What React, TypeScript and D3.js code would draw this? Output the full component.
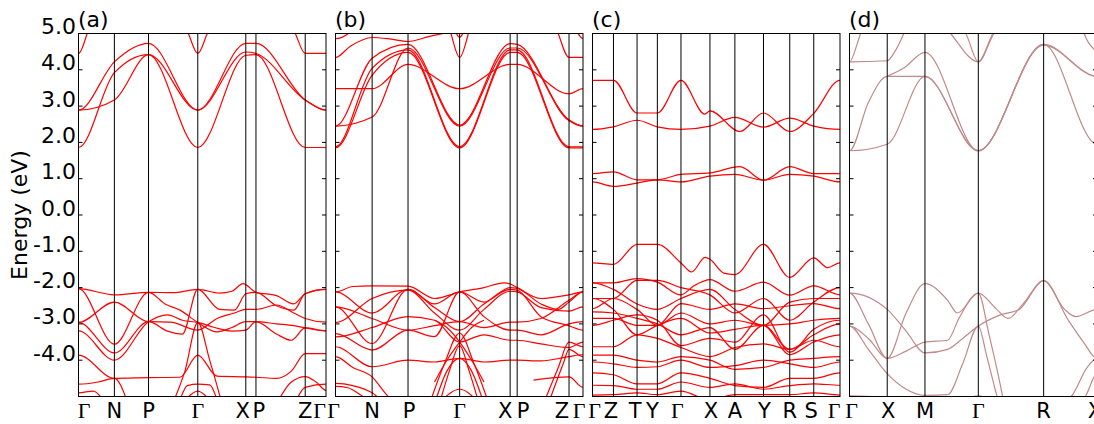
import React from "react";
import * as d3 from "d3";

type Pt = [number, number]; // [k along path, energy eV]

const yTicks = [5, 4, 3, 2, 1, 0, -1, -2, -3, -4];
const eRange: [number, number] = [-5, 5];

// ---- panel (a)
const kTicksA = [0, 0.145, 0.283, 0.482, 0.676, 0.717, 0.916, 1];
const kNamesA = ["Γ", "N", "P", "Γ", "X", "P", "Z", "Γ"];
const condA: Pt[][] = [
  [[0, 1.86], [0.145, 3.92], [0.283, 4.42], [0.482, 1.86], [0.676, 4.4], [0.717, 4.42], [0.916, 1.86], [1, 1.86]],
  [[0, 2.89], [0.145, 4.22], [0.283, 4.73], [0.482, 2.89], [0.676, 4.73], [0.717, 4.73], [0.916, 3.17], [1, 2.89]],
  [[0, 2.89], [0.145, 3.17], [0.283, 4.42], [0.482, 2.89], [0.676, 4.49], [0.717, 4.45], [0.916, 3.17], [1, 2.89]],
  [[0, 4.45], [0.035, 5.0], [0.06, 5.6]],
  [[0.42, 5.4], [0.444, 5.0], [0.482, 4.45], [0.52, 5.0], [0.544, 5.4]],
  [[0.85, 5.4], [0.876, 5.0], [0.916, 4.45], [1, 4.45]],
];
const valA: Pt[][] = [
  [[0, -2.03], [0.145, -2.2], [0.283, -2.13], [0.38, -2.14], [0.482, -2.05], [0.57, -2.15], [0.62, -2.1], [0.665, -1.89], [0.717, -2.13], [0.8, -2.22], [0.87, -2.45], [0.916, -2.17], [1, -2.05]],
  [[0, -2.03], [0.145, -3.56], [0.283, -2.13], [0.35, -2.45], [0.41, -2.62], [0.482, -2.96], [0.56, -3.22], [0.62, -3.1], [0.676, -2.94], [0.717, -2.94], [0.8, -3.28], [0.86, -3.45], [0.916, -3.11], [1, -3.19]],
  [[0, -2.96], [0.145, -2.4], [0.283, -2.94], [0.37, -2.95], [0.482, -3.17], [0.56, -2.85], [0.63, -2.7], [0.676, -2.6], [0.717, -2.6], [0.8, -2.48], [0.87, -2.7], [0.916, -2.85], [1, -2.95]],
  [[0, -2.96], [0.145, -3.8], [0.283, -2.94], [0.36, -3.2], [0.42, -3.28], [0.482, -2.05], [0.57, -2.6], [0.63, -2.62], [0.676, -2.17], [0.717, -2.13], [0.8, -2.5], [0.87, -2.62], [0.916, -2.17], [1, -2.05]],
  [[0, -3.19], [0.145, -4.0], [0.283, -2.94], [0.36, -2.75], [0.42, -2.9], [0.482, -2.96], [0.55, -3.1], [0.62, -3.2], [0.676, -3.17], [0.717, -2.94], [0.8, -3.0], [0.87, -3.05], [0.916, -3.11], [1, -3.19]],
  [[0, -3.86], [0.145, -4.5], [0.283, -4.48], [0.41, -4.47], [0.482, -3.86], [0.56, -4.44], [0.676, -4.46], [0.717, -4.47], [0.8, -4.5], [0.86, -4.3], [0.916, -3.82], [1, -3.82]],
  [[0, -4.66], [0.08, -4.6], [0.145, -4.5], [0.2, -5.2]],
  [[0, -4.9], [0.06, -4.85], [0.1, -5.1]],
  [[0.38, -5.2], [0.43, -4.3], [0.482, -2.96], [0.53, -4.0], [0.58, -5.2]],
  [[0.8, -5.2], [0.86, -4.6], [0.916, -4.45], [0.96, -4.6], [1, -4.83]],
  [[0.41, -5.1], [0.44, -4.7], [0.482, -4.66], [0.53, -4.68], [0.56, -5.1]],
  [[0.43, -5.1], [0.482, -4.85], [0.53, -5.1]],
  [[0.88, -5.1], [0.916, -4.75], [1, -4.66]],
];

// ---- panel (b)
const kTicksB = [0, 0.148, 0.293, 0.5016, 0.7056, 0.734, 0.9435, 1];
const kNamesB = ["Γ", "N", "P", "Γ", "X", "P", "Z", "Γ"];
const condB: Pt[][] = [
  [[0, 1.85], [0.148, 3.85], [0.293, 4.48], [0.5016, 1.85], [0.7056, 4.48], [0.734, 4.48], [0.9435, 1.85], [1, 1.85]],
  [[0, 1.88], [0.148, 4.04], [0.293, 4.55], [0.5016, 1.88], [0.7056, 4.55], [0.734, 4.55], [0.9435, 1.88], [1, 1.88]],
  [[0, 2.45], [0.148, 2.7], [0.293, 4.6], [0.5016, 2.45], [0.7056, 4.6], [0.734, 4.6], [0.9435, 2.6], [1, 2.45]],
  [[0, 2.45], [0.148, 4.32], [0.293, 4.7], [0.5016, 2.48], [0.7056, 4.72], [0.734, 4.7], [0.9435, 2.62], [1, 2.45]],
  [[0, 3.48], [0.148, 3.48], [0.293, 4.15], [0.5016, 3.48], [0.7056, 4.15], [0.734, 4.15], [0.9435, 3.34], [1, 3.48]],
  [[0, 4.34], [0.06, 4.65], [0.148, 4.89], [0.22, 4.85], [0.293, 4.78], [0.38, 4.92], [0.4665, 5.05]],
  [[0.45, 5.4], [0.4665, 5.0], [0.5016, 4.34], [0.537, 5.0], [0.553, 5.4]],
  [[0.48, 5.2], [0.489, 5.0], [0.5016, 4.9], [0.514, 5.0], [0.522, 5.2]],
  [[0.88, 5.4], [0.9, 5.0], [0.9435, 4.34], [1, 4.34]],
  [[0.96, 5.2], [0.98, 5.0], [1, 4.86]],
  [[0, 4.86], [0.052, 5.0], [0.07, 5.2]],
];
const valB: Pt[][] = [
  [[0, -2.12], [0.07, -1.97], [0.148, -1.95], [0.293, -1.96], [0.4, -2.3], [0.5016, -2.12], [0.6, -2.0], [0.68, -1.87], [0.7056, -1.9], [0.734, -2.0], [0.83, -2.3], [0.9435, -2.2], [1, -2.12]],
  [[0, -2.12], [0.148, -2.7], [0.293, -2.05], [0.4, -2.45], [0.5016, -2.12], [0.6, -2.4], [0.7056, -2.0], [0.734, -2.02], [0.83, -2.45], [0.9, -2.6], [0.9435, -2.4], [1, -2.12]],
  [[0, -2.53], [0.148, -3.54], [0.293, -2.05], [0.4, -2.55], [0.5016, -2.94], [0.6, -2.45], [0.7056, -2.05], [0.734, -2.07], [0.83, -2.8], [0.9435, -3.05], [1, -3.17]],
  [[0, -2.96], [0.148, -2.3], [0.293, -2.07], [0.4, -2.7], [0.5016, -3.17], [0.6, -2.6], [0.7056, -2.1], [0.734, -2.12], [0.83, -2.55], [0.9435, -2.65], [1, -2.53]],
  [[0, -2.53], [0.148, -2.85], [0.293, -3.17], [0.4, -3.05], [0.5016, -2.94], [0.6, -3.1], [0.7056, -2.95], [0.734, -2.95], [0.83, -2.85], [0.9435, -2.35], [1, -2.12]],
  [[0, -3.27], [0.148, -3.72], [0.293, -3.17], [0.4, -3.35], [0.5016, -2.12], [0.6, -2.8], [0.7056, -3.17], [0.734, -3.17], [0.83, -3.3], [0.9435, -3.0], [1, -2.94]],
  [[0, -3.36], [0.148, -3.1], [0.293, -2.8], [0.4, -2.9], [0.5016, -3.5], [0.6, -3.3], [0.7056, -3.45], [0.734, -3.45], [0.83, -3.55], [0.9435, -3.65], [1, -3.5]],
  [[0, -3.63], [0.148, -4.18], [0.293, -4.0], [0.4, -4.05], [0.5016, -3.95], [0.6, -4.05], [0.7056, -4.0], [0.734, -4.0], [0.83, -4.02], [0.9435, -3.9], [1, -3.85]],
  [[0.42, -5.2], [0.46, -4.3], [0.5016, -3.6], [0.54, -4.3], [0.58, -5.2]],
  [[0.4, -5.2], [0.45, -4.3], [0.5016, -3.95], [0.55, -4.3], [0.6, -5.2]],
  [[0.38, -5.2], [0.44, -4.1], [0.5016, -3.25], [0.56, -4.1], [0.62, -5.2]],
  [[0.4, -2.9], [0.45, -3.1], [0.5016, -3.5], [0.55, -4.0], [0.6, -4.6]],
  [[0.4, -4.6], [0.45, -4.0], [0.5016, -3.5], [0.55, -3.1], [0.6, -2.9]],
  [[0, -3.9], [0.07, -4.2], [0.148, -4.46], [0.2, -4.9], [0.24, -5.2]],
  [[0, -4.64], [0.07, -4.7], [0.148, -4.9], [0.2, -5.2]],
  [[0, -4.72], [0.05, -4.76], [0.1, -4.95], [0.15, -5.2]],
  [[0.84, -5.2], [0.9, -4.2], [0.9435, -3.5], [1, -3.63]],
  [[0.86, -5.2], [0.92, -4.1], [0.9435, -3.7], [1, -3.9]],
  [[0.43, -5.1], [0.5016, -4.8], [0.57, -5.1]],
  [[0.8, -4.55], [0.9435, -4.46], [1, -4.75]],
];

// ---- panel (c)
const kTicksC = [0, 0.0847, 0.18, 0.262, 0.3575, 0.4745, 0.5753, 0.6909, 0.797, 0.894, 1];
const kNamesC = ["Γ", "Z", "T", "Y", "Γ", "X", "A", "Y", "R", "S", "Γ"];
const condC: Pt[][] = [
  [[0, 3.71], [0.0847, 3.71], [0.18, 2.81], [0.262, 2.81], [0.3575, 3.71], [0.454, 2.78], [0.4745, 2.87], [0.5955, 2.3], [0.6909, 2.81], [0.797, 2.3], [0.894, 2.8], [1, 3.71]],
  [[0, 2.36], [0.0847, 2.43], [0.18, 2.61], [0.262, 2.43], [0.3575, 2.36], [0.4745, 2.45], [0.5753, 2.69], [0.6909, 2.42], [0.797, 2.67], [0.894, 2.45], [1, 2.36]],
  [[0, 1.14], [0.0847, 1.19], [0.18, 0.97], [0.262, 0.97], [0.3575, 1.12], [0.4745, 1.16], [0.5955, 1.33], [0.6909, 0.96], [0.797, 1.33], [0.894, 1.14], [1, 1.14]],
  [[0, 0.91], [0.0847, 0.79], [0.18, 0.88], [0.262, 0.97], [0.3575, 0.91], [0.4745, 1.07], [0.5753, 1.12], [0.6909, 0.96], [0.797, 1.12], [0.894, 1.07], [1, 0.91]],
];
const valC: Pt[][] = [
  [[0, -1.32], [0.0847, -1.36], [0.18, -0.81], [0.262, -0.81], [0.3575, -1.32], [0.4, -1.57], [0.455, -1.17], [0.4745, -1.22], [0.53, -1.6], [0.5753, -1.64], [0.6909, -0.81], [0.797, -1.72], [0.894, -1.18], [0.95, -1.45], [1, -1.32]],
  [[0, -1.87], [0.0847, -1.87], [0.18, -1.75], [0.262, -1.85], [0.3575, -2.2], [0.41, -1.95], [0.4745, -1.78], [0.5753, -2.1], [0.6909, -1.85], [0.797, -2.21], [0.894, -1.95], [1, -2.2]],
  [[0, -2.3], [0.0847, -2.3], [0.18, -1.8], [0.262, -1.8], [0.3575, -2.0], [0.4745, -2.2], [0.5753, -2.7], [0.6909, -2.3], [0.797, -2.9], [0.894, -2.4], [1, -2.0]],
  [[0, -2.58], [0.0847, -2.3], [0.18, -2.6], [0.262, -3.04], [0.3575, -2.44], [0.4745, -2.6], [0.5753, -2.45], [0.6909, -2.58], [0.797, -2.5], [0.894, -2.44], [1, -2.58]],
  [[0, -2.85], [0.0847, -2.85], [0.18, -3.04], [0.262, -3.04], [0.3575, -2.7], [0.4745, -3.0], [0.5753, -2.9], [0.6909, -3.04], [0.797, -3.0], [0.894, -2.9], [1, -2.85]],
  [[0, -2.3], [0.0847, -2.6], [0.18, -3.3], [0.262, -3.04], [0.3575, -2.85], [0.4745, -3.25], [0.5753, -3.15], [0.6909, -3.04], [0.797, -3.7], [0.894, -3.3], [1, -3.0]],
  [[0, -3.04], [0.0847, -2.9], [0.18, -2.75], [0.262, -2.9], [0.3575, -3.6], [0.4745, -3.4], [0.5753, -3.5], [0.6909, -2.75], [0.797, -3.78], [0.894, -3.15], [1, -2.9]],
  [[0, -2.67], [0.0847, -2.7], [0.18, -2.85], [0.262, -3.0], [0.3575, -3.3], [0.4745, -3.1], [0.5753, -3.7], [0.6909, -3.04], [0.797, -3.85], [0.894, -3.5], [1, -3.3]],
  [[0, -3.63], [0.0847, -3.63], [0.18, -3.3], [0.262, -3.4], [0.3575, -3.65], [0.4745, -3.9], [0.5753, -3.65], [0.6909, -3.55], [0.797, -3.7], [0.894, -3.45], [1, -3.63]],
  [[0, -3.86], [0.0847, -3.86], [0.18, -4.0], [0.262, -4.05], [0.3575, -3.9], [0.4745, -4.0], [0.5753, -4.25], [0.6909, -4.2], [0.797, -4.0], [0.894, -3.95], [1, -3.9]],
  [[0, -4.05], [0.0847, -4.1], [0.18, -4.2], [0.262, -4.18], [0.3575, -4.0], [0.4745, -4.2], [0.5753, -4.15], [0.6909, -4.0], [0.797, -4.1], [0.894, -4.2], [1, -4.05]],
  [[0, -4.35], [0.0847, -4.4], [0.18, -4.65], [0.262, -4.65], [0.3575, -4.35], [0.4745, -4.5], [0.5753, -4.7], [0.6909, -4.75], [0.797, -4.5], [0.894, -4.5], [1, -4.35]],
  [[0, -4.69], [0.0847, -4.7], [0.18, -4.8], [0.262, -4.8], [0.3575, -4.6], [0.4745, -4.75], [0.5753, -4.65], [0.6909, -4.8], [0.797, -4.7], [0.894, -4.65], [1, -4.69]],
  [[0, -4.96], [0.0847, -4.95], [0.18, -4.9], [0.262, -4.95], [0.3575, -4.85], [0.4745, -5.1], [0.5753, -4.95], [0.6909, -4.95], [0.797, -4.95], [0.894, -4.9], [1, -4.96]],
  [[0, -1.87], [0.0847, -2.05], [0.18, -2.45], [0.262, -2.6], [0.3575, -2.3], [0.4745, -2.05], [0.5753, -2.6], [0.6909, -3.04], [0.797, -2.4], [0.894, -2.3], [1, -2.3]],
];

// ---- panel (d)
const kTicksD = [0, 0.5, 1.0, 1.707, 2.573, 3.28];
const kNamesD = ["Γ", "X", "M", "Γ", "R", "X"];
const condD: Pt[][] = [
  [[0, 1.77], [0.5, 1.95], [1.0, 3.82], [1.707, 1.77], [2.573, 4.7], [3.28, 1.95]],
  [[0, 1.77], [0.25, 3.1], [0.5, 3.82], [1.0, 3.82], [1.707, 1.77], [2.573, 4.7], [3.28, 3.82]],
  [[0.5, 3.82], [0.72, 4.05], [1.0, 4.48], [1.707, 1.77], [2.573, 4.68], [3.28, 3.82]],
  [[0, 4.22], [0.5, 4.25], [0.6, 4.5], [0.72, 5.0], [0.76, 5.2]],
  [[0, 4.22], [0.1, 4.7], [0.146, 5.0], [0.2, 5.3]],
  [[1.3, 5.1], [1.34, 5.0], [1.707, 4.22], [1.915, 5.0], [1.95, 5.1]],
  [[1.5, 5.1], [1.539, 5.0], [1.707, 4.22], [1.9, 5.0], [1.93, 5.1]],
  [[3.08, 5.2], [3.11, 5.0], [3.25, 4.55], [3.28, 4.5]],
];
const valD: Pt[][] = [
  [[0, -2.15], [0.5, -2.6], [0.75, -3.2], [1.0, -3.8], [1.3, -3.7], [1.5, -3.4], [1.707, -3.06], [2.0, -2.75], [2.25, -2.6], [2.573, -1.81], [2.9, -2.9], [3.1, -3.5], [3.28, -3.95]],
  [[0, -2.15], [0.25, -3.0], [0.5, -3.95], [0.75, -2.7], [1.0, -1.89], [1.3, -2.35], [1.43, -2.7], [1.707, -2.15], [1.95, -2.6], [2.1, -2.85], [2.3, -2.45], [2.573, -1.81], [2.85, -2.6], [3.0, -2.8], [3.28, -2.6]],
  [[0, -3.06], [0.25, -3.4], [0.5, -3.95], [0.75, -3.75], [1.0, -3.5], [1.3, -3.45], [1.45, -2.85], [1.707, -2.15], [1.85, -3.3], [1.97, -4.4], [2.05, -5.2]],
  [[0, -3.06], [0.25, -3.7], [0.5, -4.37], [0.75, -4.8], [1.0, -4.97], [1.3, -4.95], [1.5, -4.1], [1.707, -3.06], [1.82, -3.9], [1.93, -4.8], [1.98, -5.2]],
  [[2.85, -5.2], [2.95, -4.97], [3.15, -4.2], [3.28, -3.95]],
  [[3.08, -5.2], [3.15, -4.9], [3.28, -4.37]],
  [[0, -4.98], [0.3, -5.0], [0.4, -5.1]],
  [[1.5, -5.1], [1.707, -4.98], [1.9, -5.1]],
];

// label nudges (px) so crowded k-point names sit side by side
const nudgeA = [5.5, 0, 0, 0, -3, 3, 0, -6.5];
const nudgeB = [-2, 0, 1, 0, -5, 6, -7, -4];
const nudgeC = [2, -2.5, -2, -5, -3.5, 1, 0, 1, 0, -2.5, -6];
const nudgeD = [2, 1, 0, 0, 0, -2];

const W = 1094;
const H = 424;
const TOP = 33.5;
const BOTTOM = 396.5;
const PANEL_X = [78.5, 335.5, 592.5, 849.5];
const PANEL_W = 247.5;
const SANS = "'DejaVu Sans', sans-serif";
const SERIF = "'Liberation Serif', 'DejaVu Serif', serif";

const panels = [
  { tag: "(a)", ticks: kTicksA, names: kNamesA, nudge: nudgeA, bands: [...condA, ...valA], color: "#ff0000" },
  { tag: "(b)", ticks: kTicksB, names: kNamesB, nudge: nudgeB, bands: [...condB, ...valB], color: "#ff0000" },
  { tag: "(c)", ticks: kTicksC, names: kNamesC, nudge: nudgeC, bands: [...condC, ...valC], color: "#ff0000" },
  { tag: "(d)", ticks: kTicksD, names: kNamesD, nudge: nudgeD, bands: [...condD, ...valD], color: "#c08a8a" },
];

const yScale = d3.scaleLinear().domain(eRange).range([BOTTOM, TOP]);

// bands are symmetric about the path ends, so mirror one point past each end
function mirrorEnds(pts: Pt[], kmax: number): Pt[] {
  const out = pts.slice();
  if (pts.length > 1 && pts[0][0] <= 0) out.unshift([-pts[1][0], pts[1][1]]);
  const n = pts.length;
  if (n > 1 && pts[n - 1][0] >= kmax) out.push([2 * kmax - pts[n - 2][0], pts[n - 2][1]]);
  return out;
}

function Panel({ p, i }: { p: (typeof panels)[number]; i: number }) {
  const x0 = PANEL_X[i];
  const kmax = p.ticks[p.ticks.length - 1];
  const x = d3.scaleLinear().domain([0, kmax]).range([x0, x0 + PANEL_W]);
  const line = d3
    .line<Pt>()
    .x((d) => x(d[0]))
    .y((d) => yScale(d[1]))
    .curve(d3.curveMonotoneX);
  const clipId = `clip-${i}`;
  return (
    <g>
      <clipPath id={clipId}>
        <rect x={x0} y={TOP} width={PANEL_W} height={BOTTOM - TOP} />
      </clipPath>
      <g clipPath={`url(#${clipId})`} fill="none" stroke={p.color} strokeWidth={1.2}>
        {p.bands.map((b, j) => (
          <path key={j} d={line(mirrorEnds(b, kmax)) || ""} />
        ))}
      </g>
      {p.ticks.slice(1, -1).map((k, j) => (
        <line key={j} x1={x(k)} x2={x(k)} y1={TOP} y2={BOTTOM} stroke="#000" strokeWidth={1} />
      ))}
      {yTicks.map((t) => (
        <g key={t} stroke="#000">
          <line x1={x0} x2={x0 + 4} y1={yScale(t)} y2={yScale(t)} />
          <line x1={x0 + PANEL_W - 4} x2={x0 + PANEL_W} y1={yScale(t)} y2={yScale(t)} />
        </g>
      ))}
      <rect x={x0} y={TOP} width={PANEL_W} height={BOTTOM - TOP} fill="none" stroke="#000" strokeWidth={1} />
      <text x={x0 - 0.5} y={27} fontFamily={SANS} fontSize={22}>
        {p.tag}
      </text>
      {p.names.map((nm, j) => {
        const greek = nm === "Γ";
        return (
          <text
            key={j}
            x={x(p.ticks[j]) + p.nudge[j]}
            y={418}
            textAnchor="middle"
            fontFamily={greek ? SERIF : SANS}
            fontSize={greek ? 22 : 21}
          >
            {nm}
          </text>
        );
      })}
    </g>
  );
}

export default function App() {
  return (
    <svg width={W} height={H} style={{ position: "absolute", left: 0, top: 0, background: "#fff" }}>
      {yTicks.map((t) => (
        <text key={t} x={76} y={yScale(t) + 0.5} textAnchor="end" fontFamily={SANS} fontSize={22}>
          {t.toFixed(1)}
        </text>
      ))}
      <text
        transform={`translate(27,215) rotate(-90)`}
        textAnchor="middle"
        fontFamily={SANS}
        fontSize={22}
      >
        Energy (eV)
      </text>
      {panels.map((p, i) => (
        <Panel key={i} p={p} i={i} />
      ))}
    </svg>
  );
}
